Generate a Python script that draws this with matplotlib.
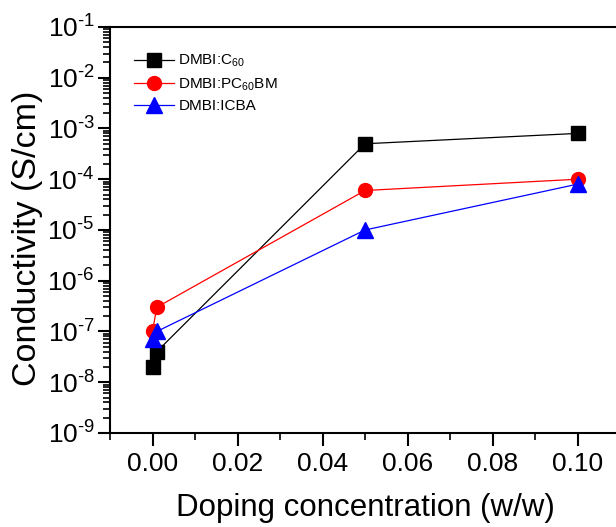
import math
import matplotlib
matplotlib.use("Agg")
import matplotlib.pyplot as plt
from matplotlib.ticker import MultipleLocator, LogLocator, NullFormatter, FuncFormatter

plt.rcParams['font.family'] = ['Liberation Sans', 'DejaVu Sans']
plt.rcParams['mathtext.fontset'] = 'custom'
plt.rcParams['mathtext.rm'] = 'Liberation Sans'
plt.rcParams['mathtext.it'] = 'Liberation Sans:italic'
plt.rcParams['mathtext.bf'] = 'Liberation Sans:bold'

# doping concentration (w/w)
conc = [0.0, 0.001, 0.05, 0.1]
# conductivity (S/cm)
c60 = [2e-8, 4e-8, 5e-4, 8e-4]
pcbm = [1e-7, 3e-7, 6e-5, 1e-4]
icba = [7e-8, 1e-7, 1e-5, 8e-5]

labels = ['DMBI:C$_{60}$', 'DMBI:PC$_{60}$BM', 'DMBI:ICBA']


def pow_fmt(v, pos):
    n = int(round(math.log10(v)))
    sign = '\u2010' if n < 0 else ''
    return f"$\\mathregular{{10^{{{sign}{abs(n)}}}}}$"


fig = plt.figure(figsize=(6.16, 5.27), dpi=100)
ax = fig.add_axes([0.1786, 0.1784, 0.828, 0.7704])

ax.plot(conc, c60, color='black', marker='s', ms=10, lw=0.9, label=labels[0])
ax.plot(conc, pcbm, color='red', marker='o', ms=10, lw=0.9, label=labels[1])
ax.plot(conc, icba, color='blue', marker='^', ms=11, lw=0.9, label=labels[2])

ax.set_yscale('log')
ax.set_ylim(1e-9, 1e-1)
ax.set_xlim(-0.01, 0.11)

ax.xaxis.set_major_locator(MultipleLocator(0.02))
ax.xaxis.set_minor_locator(MultipleLocator(0.01))
ax.xaxis.set_major_formatter(FuncFormatter(lambda v, p: f"{v:.2f}"))
ax.yaxis.set_major_locator(LogLocator(base=10, numticks=20))
ax.yaxis.set_minor_locator(LogLocator(base=10, subs=range(2, 10), numticks=20))
ax.yaxis.set_major_formatter(FuncFormatter(pow_fmt))
ax.yaxis.set_minor_formatter(NullFormatter())

for side in ['left', 'bottom', 'top']:
    ax.spines[side].set_linewidth(1.5)
ax.spines['right'].set_visible(False)

ax.tick_params(which='major', direction='out', length=9, width=1.5, labelsize=19, pad=5)
ax.tick_params(which='minor', direction='out', length=5, width=1.2)
ax.tick_params(axis='y', which='major', pad=2)
ax.tick_params(top=False, right=False, which='both')

ax.set_xlabel('Doping concentration (w/w)', fontsize=22.5, labelpad=12)
ax.set_ylabel('Conductivity (S/cm)', fontsize=24.5, labelpad=3)
ax.yaxis.label.set_y(0.48)

ax.legend(loc='upper left', frameon=False, fontsize=11, bbox_to_anchor=(0.02, 0.97),
          handlelength=2.6, labelspacing=0.45, handletextpad=0.3)

fig.savefig('out.png', dpi=100)
